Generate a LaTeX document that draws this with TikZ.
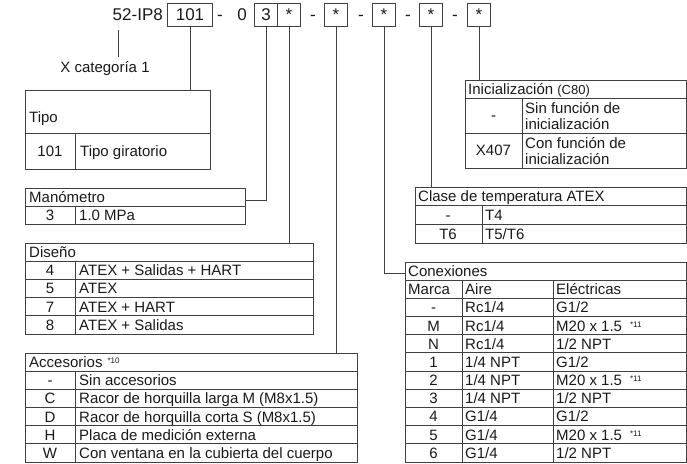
\documentclass[tikz,border=0pt]{standalone}
\usepackage{fontspec}
\setmainfont{Liberation Sans}
\newcommand\supn[1]{\raisebox{4pt}{\fontsize{8}{8}\selectfont #1}}
\begin{document}
\begin{tikzpicture}[x=1pt,y=-1pt,
  ln/.style={draw=black!75,line width=0.9pt},
  tblframe/.style={draw=black!75,line width=0.9pt,inner sep=0pt,outer sep=0pt,rectangle},
  tx/.style={font=\fontsize{15}{17}\selectfont,inner sep=0pt,text=black!90},
  lt/.style={tx,anchor=base west},
  ct/.style={tx,anchor=base},
  tt/.style={font=\fontsize{17}{19}\selectfont,inner sep=0pt,text=black!90,anchor=base},
  cbox/.style={tblframe,font=\fontsize{17}{19}\selectfont,text=black!90,minimum height=23pt,text height=12.2pt,text depth=0pt},
]
\useasboundingbox (0,0) rectangle (687,463);

% ---- model code row ----
\node[tt,anchor=base east] (code) at (163,20.6) {52-IP8};
\node[cbox,minimum width=45pt] (b101) at (190,14.5) {101};
\node[tt] (d1) at (220,20.6) {-};
\node[tt] (zero) at (242,20.6) {0};
\node[cbox,minimum width=23pt] (b3) at (266,14.5) {3};
\node[cbox,minimum width=23pt] (bs1) at (289,14.5) {*};
\node[tt] (d2) at (313,20.6) {-};
\node[cbox,minimum width=23pt] (bs2) at (336,14.5) {*};
\node[tt] (d3) at (361,20.6) {-};
\node[cbox,minimum width=23pt] (bs3) at (384,14.5) {*};
\node[tt] (d4) at (408,20.6) {-};
\node[cbox,minimum width=23pt] (bs4) at (431,14.5) {*};
\node[tt] (d5) at (455,20.6) {-};
\node[cbox,minimum width=23pt] (bs5) at (479,14.5) {*};

% ---- X categoria ----
\coordinate (xa) at (118,30);
\coordinate (xb) at (118,57);
\draw[ln] (xa) -- (xb);
\node[ct] (xcat) at (105,72.4) {X categoría 1};

% ---- Tipo ----
\node[tblframe,minimum width=185pt,minimum height=79pt] (tipo) at (117.5,129.5) {};
\draw[ln] (25,133) -- (210,133);
\draw[ln] (75,133) -- (75,169);
\node[lt] (tipoh) at (29,122.4) {Tipo};
\node[ct] (tipo1a) at (50,156.4) {101};
\node[lt] (tipo1b) at (80,156.4) {Tipo giratorio};

% ---- Manometro ----
\node[tblframe,minimum width=220pt,minimum height=36pt] (man) at (135,206) {};
\draw[ln] (25,206) -- (245,206);
\draw[ln] (75,206) -- (75,224);
\node[lt] (manh) at (29,202.4) {Manómetro};
\node[ct] (man1a) at (50,220.4) {3};
\node[lt] (man1b) at (79,220.4) {1.0 MPa};

% ---- Diseno ----
\node[tblframe,minimum width=288pt,minimum height=91pt] (dis) at (169,288.5) {};
\foreach \yy in {261.2,279.4,297.6,315.8} \draw[ln] (25,\yy) -- (313,\yy);
\draw[ln] (75,261.2) -- (75,334);
\node[lt] (dish) at (29,257.5) {Diseño};
\node[ct] (dis1a) at (50,275.7) {4};
\node[lt] (dis1b) at (79,275.7) {ATEX + Salidas + HART};
\node[ct] (dis2a) at (50,293.9) {5};
\node[lt] (dis2b) at (79,293.9) {ATEX};
\node[ct] (dis3a) at (50,312.1) {7};
\node[lt] (dis3b) at (79,312.1) {ATEX + HART};
\node[ct] (dis4a) at (50,330.3) {8};
\node[lt] (dis4b) at (79,330.3) {ATEX + Salidas};

% ---- Accesorios ----
\node[tblframe,minimum width=332pt,minimum height=109pt] (acc) at (191,407.5) {};
\foreach \yy in {371.2,389.3,407.5,425.7,443.8} \draw[ln] (25,\yy) -- (357,\yy);
\draw[ln] (75,371.2) -- (75,462);
\node[lt] (acch) at (29,367.5) {Accesorios\hspace{5pt}\supn{*10}};
\node[ct] (acc1a) at (50,385.7) {-};
\node[lt] (acc1b) at (79,385.7) {Sin accesorios};
\node[ct] (acc2a) at (50,403.8) {C};
\node[lt] (acc2b) at (79,403.8) {Racor de horquilla larga M (M8x1.5)};
\node[ct] (acc3a) at (50,422) {D};
\node[lt] (acc3b) at (79,422) {Racor de horquilla corta S (M8x1.5)};
\node[ct] (acc4a) at (50,440.2) {H};
\node[lt] (acc4b) at (79,440.2) {Placa de medición externa};
\node[ct] (acc5a) at (50,458.3) {W};
\node[lt] (acc5b) at (79,458.3) {Con ventana en la cubierta del cuerpo};

% ---- Inicializacion ----
\node[tblframe,minimum width=221.5pt,minimum height=88pt] (ini) at (575.75,124) {};
\draw[ln] (465,98) -- (686.5,98);
\draw[ln] (465,133) -- (686.5,133);
\draw[ln] (522,98) -- (522,168);
\node[lt] (inih) at (468,94.4) {Inicialización {\fontsize{13}{15}\selectfont(C80)}};
\node[ct] (ini1a) at (493.5,120.9) {-};
\node[lt] (ini1b) at (525,113.4) {Sin función de};
\node[lt] (ini1c) at (525,129.4) {inicialización};
\node[ct] (ini2a) at (493.5,155.9) {X407};
\node[lt] (ini2b) at (525,148.2) {Con función de};
\node[lt] (ini2c) at (525,164.6) {inicialización};

% ---- Clase de temperatura ----
\node[tblframe,minimum width=271.5pt,minimum height=56pt] (cla) at (550.75,215) {};
\draw[ln] (415,205.7) -- (686.5,205.7);
\draw[ln] (415,224.3) -- (686.5,224.3);
\draw[ln] (482,205.7) -- (482,243);
\node[lt] (clah) at (418,201.7) {Clase de temperatura ATEX};
\node[ct] (cla1a) at (448,220.4) {-};
\node[lt] (cla1b) at (485,220.4) {T4};
\node[ct] (cla2a) at (448,239.1) {T6};
\node[lt] (cla2b) at (485,239.1) {T5/T6};

% ---- Conexiones ----
\node[tblframe,minimum width=281.5pt,minimum height=200pt] (con) at (545.75,362) {};
\foreach \yy in {280.2,298.4,316.5,334.7,352.9,371.1,389.3,407.5,425.6,443.8} \draw[ln] (405,\yy) -- (686.5,\yy);
\draw[ln] (462,280.2) -- (462,462);
\draw[ln] (553,280.2) -- (553,462);
\node[lt] (conh) at (408,276.5) {Conexiones};
\node[lt] (conm) at (408,294.7) {Marca};
\node[lt] (cona) at (465,294.7) {Aire};
\node[lt] (cone) at (556,294.7) {Eléctricas};
\node[ct] (c1a) at (433.5,312.9) {-};
\node[lt] (c1b) at (465,312.9) {Rc1/4};
\node[lt] (c1c) at (556,312.9) {G1/2};
\node[ct] (c2a) at (433.5,331) {M};
\node[lt] (c2b) at (465,331) {Rc1/4};
\node[lt] (c2c) at (556,331) {M20 x 1.5\hspace{8pt}\supn{*11}};
\node[ct] (c3a) at (433.5,349.2) {N};
\node[lt] (c3b) at (465,349.2) {Rc1/4};
\node[lt] (c3c) at (556,349.2) {1/2 NPT};
\node[ct] (c4a) at (433.5,367.4) {1};
\node[lt] (c4b) at (465,367.4) {1/4 NPT};
\node[lt] (c4c) at (556,367.4) {G1/2};
\node[ct] (c5a) at (433.5,385.6) {2};
\node[lt] (c5b) at (465,385.6) {1/4 NPT};
\node[lt] (c5c) at (556,385.6) {M20 x 1.5\hspace{8pt}\supn{*11}};
\node[ct] (c6a) at (433.5,403.8) {3};
\node[lt] (c6b) at (465,403.8) {1/4 NPT};
\node[lt] (c6c) at (556,403.8) {1/2 NPT};
\node[ct] (c7a) at (433.5,421.9) {4};
\node[lt] (c7b) at (465,421.9) {G1/4};
\node[lt] (c7c) at (556,421.9) {G1/2};
\node[ct] (c8a) at (433.5,440.1) {5};
\node[lt] (c8b) at (465,440.1) {G1/4};
\node[lt] (c8c) at (556,440.1) {M20 x 1.5\hspace{8pt}\supn{*11}};
\node[ct] (c9a) at (433.5,458.3) {6};
\node[lt] (c9b) at (465,458.3) {G1/4};
\node[lt] (c9c) at (556,458.3) {1/2 NPT};

% ---- connectors ----
\coordinate (manj) at (245,200);
\coordinate (conj) at (405,273);
\draw[ln] (b101.south) -- (b101.south |- tipo.north);
\draw[ln] (b3.south) |- (manj);
\draw[ln] (bs1.south) -- (bs1.south |- dis.north);
\draw[ln] (bs2.south) -- (bs2.south |- acc.north);
\draw[ln] (bs3.south) |- (conj);
\draw[ln] (bs4.south) -- (bs4.south |- cla.north);
\draw[ln] (bs5.south) -- (bs5.south |- ini.north);
\end{tikzpicture}
\end{document}
